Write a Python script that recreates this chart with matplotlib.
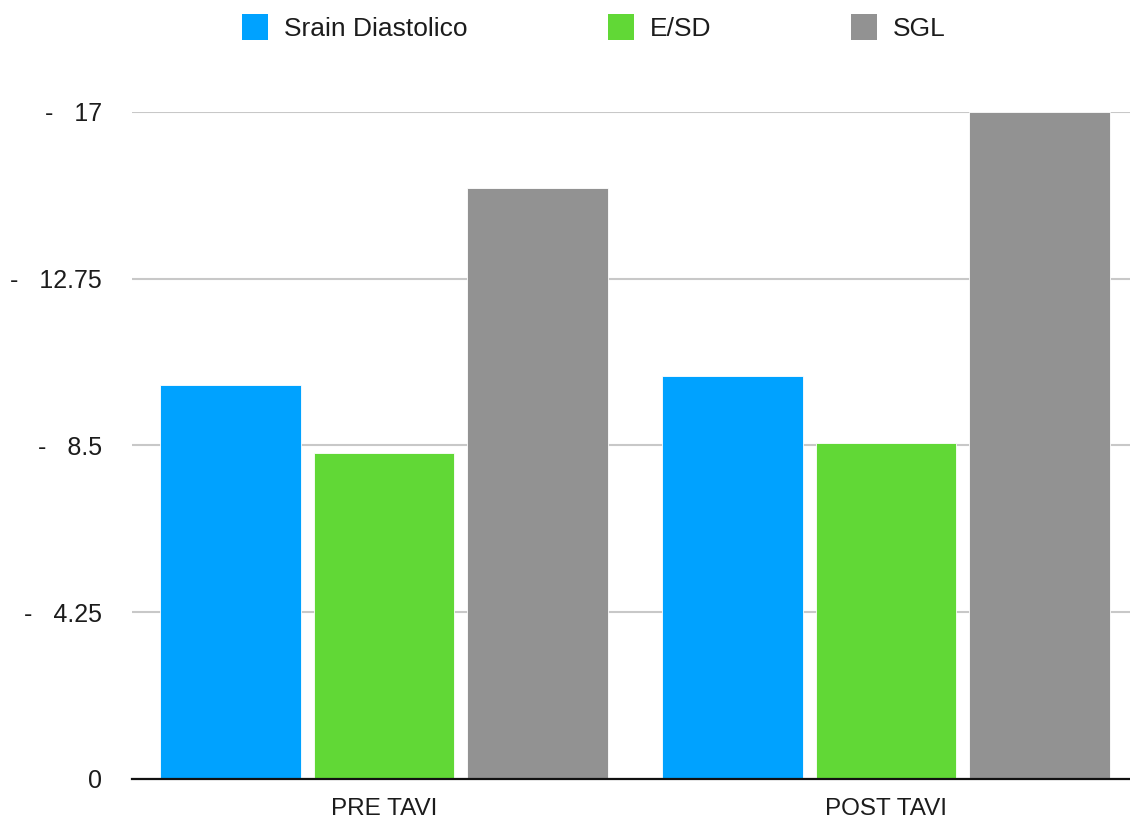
import numpy as np
import matplotlib
matplotlib.use("Agg")
import matplotlib.pyplot as plt
from matplotlib.patches import Patch

plt.rcParams["font.family"] = ["Liberation Sans", "DejaVu Sans"]

categories = ["PRE TAVI", "POST TAVI"]
series_names = ["Srain Diastolico", "E/SD", "SGL"]
strain_diast = [10.05, 10.27]
e_sd = [8.31, 8.56]
sgl = [15.05, 17.0]
y_ticks = [0, 4.25, 8.5, 12.75, 17]
y_tick_labels = ["0", "-   4.25", "-   8.5", "-   12.75", "-   17"]

colors = ["#00A2FF", "#61D836", "#929292"]
text_color = "#1c1c1c"

fig = plt.figure(figsize=(11.3, 8.21), dpi=100)
ax = fig.add_axes([0.117, 0.0512, 0.883, 0.8124])

x = np.arange(len(categories))
width = 0.28
offsets = [-0.306, 0.0, 0.306]
for vals, off, c in zip([strain_diast, e_sd, sgl], offsets, colors):
    ax.bar(x + off, vals, width, color=c, edgecolor="white", linewidth=0.6, zorder=3)

ax.set_xlim(-0.502, 1.486)
ax.set_ylim(0, 17)
ax.set_yticks(y_ticks)
ax.set_yticklabels(y_tick_labels)
ax.set_xticks(x)
ax.set_xticklabels(categories)
ax.tick_params(axis="y", length=0, pad=22, labelsize=18, labelcolor=text_color)
ax.tick_params(axis="x", length=0, pad=14, labelsize=17.5, labelcolor=text_color)

ax.yaxis.grid(True, color="#c8c8c8", linewidth=1.5, zorder=0)
for s in ["top", "right", "left"]:
    ax.spines[s].set_visible(False)
ax.spines["bottom"].set_color("#111111")
ax.spines["bottom"].set_linewidth(1.6)
ax.spines["bottom"].set_zorder(4)

handles = [Patch(facecolor=c, edgecolor="none") for c in colors]
fig.legend(handles, series_names, loc="center", bbox_to_anchor=(594 / 1130, 0.967),
           ncol=3, frameon=False, fontsize=19, handlelength=1.0, handleheight=1.15,
           handletextpad=0.6, columnspacing=5.3, labelcolor=text_color)

fig.savefig("out.png", dpi=100, facecolor="white")
